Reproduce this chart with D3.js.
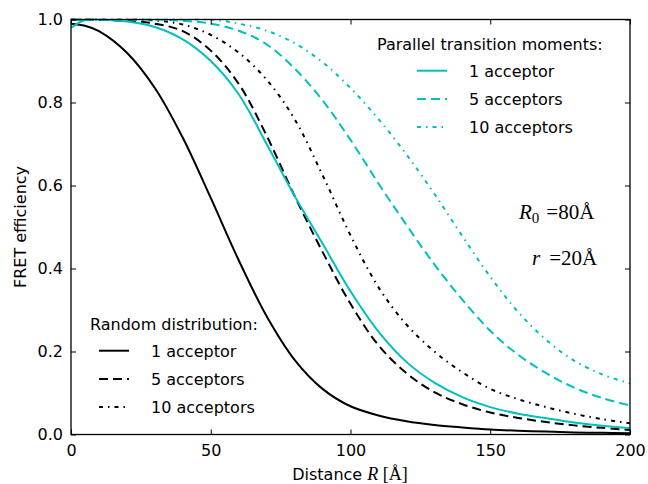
<!DOCTYPE html>
<html>
<head>
<meta charset="utf-8">
<script src="https://cdn.jsdelivr.net/npm/d3@7"></script>
<style>
  body { margin: 0; background: #fff; }
  svg { display: block; }
</style>
</head>
<body>
<svg id="chart"></svg>
<script>
// distances (Å)
const distance = [0, 5, 10, 20, 30, 40, 50, 60, 70, 80, 90, 100, 110, 120, 130, 140, 150, 160, 170, 180, 190, 200];

// random distribution
const random1 = [0.99, 0.985, 0.972, 0.92, 0.835, 0.715, 0.57, 0.42, 0.285, 0.18, 0.11, 0.068, 0.046, 0.032, 0.023, 0.017, 0.012, 0.009, 0.007, 0.005, 0.004, 0.003];
const random5 = [1.0, 1.0, 0.999, 0.997, 0.99, 0.972, 0.925, 0.845, 0.72, 0.575, 0.44, 0.315, 0.215, 0.148, 0.102, 0.073, 0.053, 0.04, 0.03, 0.022, 0.016, 0.011];
const random10 = [1.0, 1.0, 1.0, 1.0, 0.998, 0.988, 0.963, 0.92, 0.855, 0.76, 0.625, 0.48, 0.355, 0.265, 0.2, 0.15, 0.11, 0.085, 0.066, 0.05, 0.037, 0.027];

// parallel transition moments
const parallel1 = [0.98, 0.999, 1.0, 0.995, 0.982, 0.952, 0.9, 0.82, 0.7, 0.575, 0.46, 0.345, 0.248, 0.175, 0.125, 0.09, 0.066, 0.05, 0.039, 0.029, 0.021, 0.015];
const parallel5 = [1.0, 1.0, 1.0, 1.0, 1.0, 0.997, 0.99, 0.973, 0.94, 0.882, 0.805, 0.71, 0.605, 0.505, 0.41, 0.325, 0.25, 0.192, 0.148, 0.113, 0.088, 0.07];
const parallel10 = [1.0, 1.0, 1.0, 1.0, 1.0, 1.0, 1.0, 0.99, 0.973, 0.943, 0.897, 0.835, 0.76, 0.675, 0.58, 0.478, 0.38, 0.295, 0.228, 0.178, 0.145, 0.123];

const xTicks = [0, 50, 100, 150, 200];
const yTicks = [0, 0.2, 0.4, 0.6, 0.8, 1.0];
const legendLabels = ["1 acceptor", "5 acceptors", "10 acceptors"];

const W = 648, H = 484;
const margin = {left: 71, right: 18, top: 19.5, bottom: 49.5};
const cyan = "#00bfbf";
const dashes = ["none", "9,5", "4,5,1.5,5"];
const sans = "DejaVu Sans";
const serif = "Liberation Serif";

const svg = d3.select("#chart").attr("width", W).attr("height", H)
  .attr("font-family", sans);

const x = d3.scaleLinear().domain([0, 200]).range([margin.left, W - margin.right]);
const y = d3.scaleLinear().domain([0, 1]).range([H - margin.bottom, margin.top]);

// curves
const series = [
  {vals: random1, color: "#000", dash: dashes[0]},
  {vals: random5, color: "#000", dash: dashes[1]},
  {vals: random10, color: "#000", dash: dashes[2]},
  {vals: parallel1, color: cyan, dash: dashes[0]},
  {vals: parallel5, color: cyan, dash: dashes[1]},
  {vals: parallel10, color: cyan, dash: dashes[2]}
];

const line = d3.line()
  .x((d, i) => x(distance[i]))
  .y(d => y(d))
  .curve(d3.curveCatmullRom.alpha(0.5));

svg.append("clipPath").attr("id", "clip")
  .append("rect")
  .attr("x", margin.left).attr("y", margin.top - 1)
  .attr("width", W - margin.left - margin.right)
  .attr("height", H - margin.top - margin.bottom + 1);

svg.append("g").attr("clip-path", "url(#clip)")
  .selectAll("path")
  .data(series)
  .join("path")
  .attr("d", d => line(d.vals))
  .attr("fill", "none")
  .attr("stroke", d => d.color)
  .attr("stroke-width", 2)
  .attr("stroke-dasharray", d => d.dash);

// axes, ticks inward on all four sides
const tickLen = 5;
svg.append("g")
  .attr("transform", `translate(0,${H - margin.bottom})`)
  .call(d3.axisBottom(x).tickValues(xTicks).tickSize(-tickLen).tickPadding(10).tickFormat(d3.format("d")))
  .call(g => g.select(".domain").remove());
svg.append("g")
  .attr("transform", `translate(0,${margin.top})`)
  .call(d3.axisTop(x).tickValues(xTicks).tickSize(-tickLen).tickFormat(""))
  .call(g => g.select(".domain").remove());
svg.append("g")
  .attr("transform", `translate(${margin.left},0)`)
  .call(d3.axisLeft(y).tickValues(yTicks).tickSize(-tickLen).tickPadding(8).tickFormat(d3.format(".1f")))
  .call(g => g.select(".domain").remove());
svg.append("g")
  .attr("transform", `translate(${W - margin.right},0)`)
  .call(d3.axisRight(y).tickValues(yTicks).tickSize(-tickLen).tickFormat(""))
  .call(g => g.select(".domain").remove());

svg.selectAll(".tick line").attr("stroke", "#000").attr("stroke-width", 1);
svg.selectAll(".tick text")
  .attr("font-family", sans)
  .attr("font-size", 16)
  .attr("fill", "#000");

svg.append("rect")
  .attr("x", margin.left).attr("y", margin.top)
  .attr("width", W - margin.left - margin.right)
  .attr("height", H - margin.top - margin.bottom)
  .attr("fill", "none").attr("stroke", "#000").attr("stroke-width", 1.3);

// axis labels
const xl = svg.append("text")
  .attr("x", 350).attr("y", 480)
  .attr("text-anchor", "middle")
  .attr("font-size", 16);
xl.append("tspan").text("Distance ");
xl.append("tspan").attr("font-family", serif).attr("font-style", "italic").attr("font-size", 18).text("R");
xl.append("tspan").attr("font-family", serif).attr("font-size", 18).text(" [Å]");

svg.append("text")
  .attr("transform", "translate(26,227) rotate(-90)")
  .attr("text-anchor", "middle")
  .attr("font-size", 16)
  .text("FRET efficiency");

// legends
function legend(title, tx, ty, lx, rows, color, textX) {
  const g = svg.append("g");
  g.append("text").attr("x", tx).attr("y", ty).attr("font-size", 16).text(title);
  rows.forEach((ry, i) => {
    g.append("line")
      .attr("x1", lx).attr("x2", lx + 30)
      .attr("y1", ry).attr("y2", ry)
      .attr("stroke", color).attr("stroke-width", 2)
      .attr("stroke-dasharray", dashes[i]);
    g.append("text")
      .attr("x", textX).attr("y", ry + 6)
      .attr("font-size", 16)
      .text(legendLabels[i]);
  });
}
legend("Parallel transition moments:", 377, 50, 417, [70.7, 99, 127], cyan, 469);
legend("Random distribution:", 90, 330, 99, [350.7, 379, 407], "#000", 151);

// annotations
const a1 = svg.append("text").attr("x", 519).attr("y", 219)
  .attr("font-family", serif).attr("font-size", 21);
a1.append("tspan").attr("font-style", "italic").text("R");
a1.append("tspan").attr("font-size", 15).attr("dy", 4).text("0");
a1.append("tspan").attr("dy", -4).attr("dx", 7).text("=80Å");

const a2 = svg.append("text").attr("x", 532).attr("y", 265)
  .attr("font-family", serif).attr("font-size", 21);
a2.append("tspan").attr("font-style", "italic").text("r");
a2.append("tspan").attr("dx", 9).text("=20Å");
</script>
</body>
</html>
